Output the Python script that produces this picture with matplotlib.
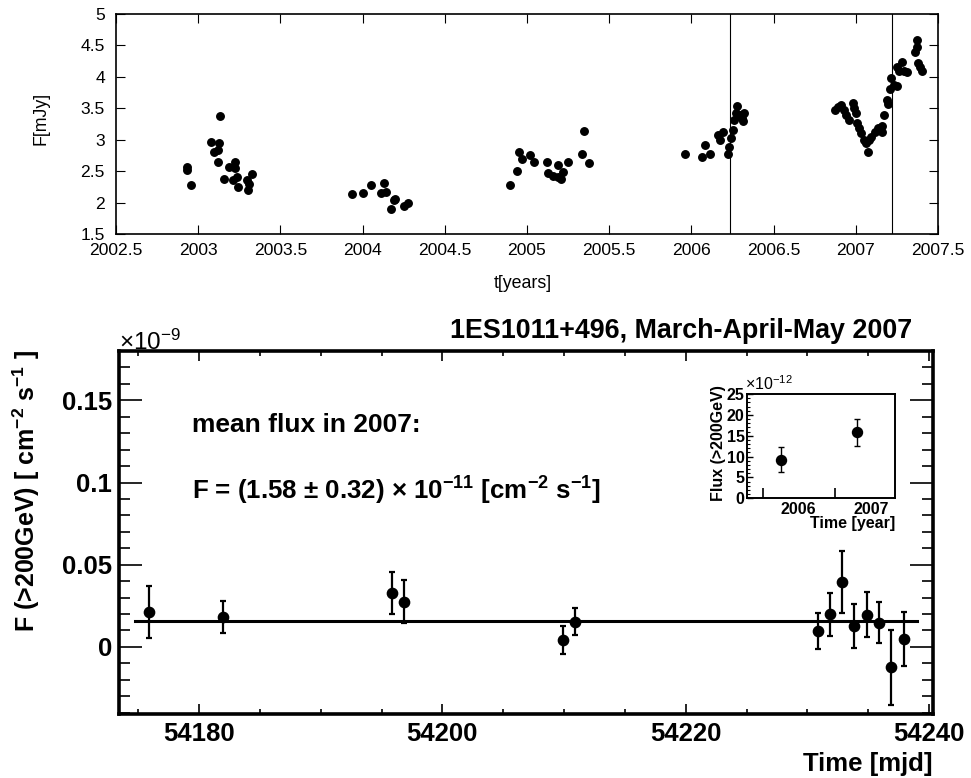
import matplotlib
matplotlib.use("Agg")
import matplotlib.pyplot as plt
from matplotlib.ticker import MultipleLocator, FuncFormatter, FixedLocator

plt.rcParams['font.family'] = ['Liberation Sans', 'DejaVu Sans']
plt.rcParams['mathtext.default'] = 'regular'

# ---------------- data: optical light curve (top panel) ----------------
opt_years = [
    2002.929, 2002.929, 2002.955, 2003.078, 2003.098, 2003.133, 2003.128, 2003.120, 2003.118, 2003.159,
    2003.188, 2003.224, 2003.224, 2003.210, 2003.235, 2003.240, 2003.296, 2003.310, 2003.300, 2003.330,
    2003.938, 2004.003, 2004.054, 2004.110, 2004.131, 2004.141, 2004.172, 2004.188, 2004.200, 2004.250,
    2004.278,
    2004.895, 2004.942, 2004.950, 2004.970, 2005.017, 2005.044, 2005.119, 2005.130, 2005.160, 2005.190,
    2005.190, 2005.205, 2005.220, 2005.248, 2005.333, 2005.345, 2005.378,
    2005.961, 2006.062, 2006.083, 2006.111, 2006.164, 2006.175, 2006.193, 2006.225, 2006.230, 2006.240,
    2006.250, 2006.260, 2006.270, 2006.280, 2006.295, 2006.300, 2006.310, 2006.315, 2006.320,
    2006.871, 2006.890, 2006.910, 2006.930, 2006.940, 2006.960, 2006.980, 2006.990, 2007.000, 2007.010,
    2007.020, 2007.030, 2007.050, 2007.065, 2007.075, 2007.080, 2007.095, 2007.116, 2007.135, 2007.157,
    2007.160, 2007.173, 2007.187, 2007.197, 2007.208, 2007.212, 2007.230, 2007.250, 2007.253, 2007.265,
    2007.280, 2007.293, 2007.310, 2007.360, 2007.370, 2007.375, 2007.380, 2007.390, 2007.400,
]
opt_flux = [
    2.57, 2.52, 2.28, 2.97, 2.80, 3.38, 2.94, 2.84, 2.64, 2.38,
    2.57, 2.64, 2.55, 2.36, 2.41, 2.24, 2.36, 2.29, 2.20, 2.45,
    2.13, 2.15, 2.28, 2.15, 2.31, 2.17, 1.89, 2.04, 2.05, 1.95,
    1.99,
    2.28, 2.50, 2.81, 2.69, 2.75, 2.65, 2.65, 2.47, 2.42, 2.60,
    2.41, 2.38, 2.49, 2.64, 2.77, 3.14, 2.63,
    2.78, 2.73, 2.92, 2.77, 3.08, 2.99, 3.13, 2.77, 2.89, 3.02,
    3.16, 3.32, 3.42, 3.54, 3.40, 3.36, 3.34, 3.30, 3.42,
    3.47, 3.52, 3.55, 3.47, 3.39, 3.32, 3.58, 3.50, 3.42, 3.26,
    3.18, 3.10, 3.00, 2.94, 2.81, 3.00, 3.05, 3.13, 3.18, 3.13,
    3.22, 3.39, 3.63, 3.57, 3.80, 3.98, 3.87, 3.86, 4.16, 4.10,
    4.24, 4.10, 4.08, 4.40, 4.59, 4.47, 4.22, 4.16, 4.10,
]
opt_err = 0.035
vline_years = [2006.233, 2007.218]

# ---------------- data: VHE light curve (bottom panel), units 1e-9 ----------------
vhe_mjd = [54175.91, 54182.00, 54195.86, 54196.82, 54209.90, 54210.92, 54230.91,
           54231.87, 54232.88, 54233.84, 54234.91, 54235.87, 54236.91, 54237.93]
vhe_flux = [0.0212, 0.0182, 0.0326, 0.0275, 0.0041, 0.0154, 0.0097,
            0.0198, 0.0394, 0.0128, 0.0197, 0.0148, -0.0125, 0.0047]
vhe_err = [0.0160, 0.0100, 0.0127, 0.0132, 0.0084, 0.0082, 0.0110,
           0.0130, 0.0190, 0.0133, 0.0138, 0.0127, 0.0228, 0.0163]
mean_flux = 0.0158
mean_range = [54174.74, 54239.0]

# ---------------- data: inset (yearly flux, units 1e-12) ----------------
inset_year = [2005.75, 2006.80]
inset_flux = [9.2, 15.8]
inset_err = [3.0, 3.3]
inset_labels = ['2006', '2007']
inset_label_pos = [2006.0, 2007.0]
inset_tick_pos = [2005.5, 2006.5]

W, H = 971, 778
fig = plt.figure(figsize=(W / 100, H / 100), dpi=100)

def fx(px):
    return px / W

def fy(py):
    return 1 - py / H

fmt_g = FuncFormatter(lambda v, p: '%g' % round(v, 6))

# ---------------- top panel ----------------
ax1 = fig.add_axes([fx(116), fy(234), fx(938) - fx(116), fy(14) - fy(234)])
ax1.errorbar(opt_years, opt_flux, yerr=opt_err, fmt='o', color='black', ms=5.4,
             elinewidth=0.8, capsize=1.5, capthick=0.8)
for v in vline_years:
    ax1.axvline(v, color='black', lw=0.8)
ax1.set_xlim(2002.5, 2007.5)
ax1.set_ylim(1.5, 5)
ax1.xaxis.set_major_locator(MultipleLocator(0.5))
ax1.yaxis.set_major_locator(MultipleLocator(0.5))
ax1.xaxis.set_major_formatter(fmt_g)
ax1.yaxis.set_major_formatter(fmt_g)
ax1.tick_params(axis='both', direction='in', top=True, right=True, length=6.5, width=0.8,
                labelsize=12.6)
ax1.tick_params(axis='x', pad=6.8)
ax1.tick_params(axis='y', pad=8)
for s in ax1.spines.values():
    s.set_linewidth(1.2)
fig.text(fx(523), fy(283), 't[years]', ha='center', va='center', fontsize=12.8)
fig.text(fx(41), fy(118), 'F[mJy]', ha='center', va='center', rotation=90, fontsize=12.8)

# ---------------- bottom panel ----------------
ax2 = fig.add_axes([fx(119.3), fy(714), fx(933.3) - fx(119.3), fy(350.7) - fy(714)])
ax2.plot(mean_range, [mean_flux, mean_flux], color='black', lw=2.2)
ax2.errorbar(vhe_mjd, vhe_flux, yerr=vhe_err, fmt='o', color='black', ms=7.4,
             elinewidth=1.6, capsize=2.2, capthick=1.6)
ax2.set_xlim(54173.45, 54240.35)
ax2.set_ylim(-0.0408, 0.1802)
ax2.xaxis.set_major_locator(MultipleLocator(20))
ax2.xaxis.set_minor_locator(MultipleLocator(5))
ax2.yaxis.set_major_locator(MultipleLocator(0.05))
ax2.yaxis.set_minor_locator(MultipleLocator(0.01))
ax2.xaxis.set_major_formatter(fmt_g)
ax2.yaxis.set_major_formatter(fmt_g)
ax2.tick_params(axis='both', which='both', direction='in', top=True, right=True, width=1.2,
                labelsize=18.5)
ax2.tick_params(axis='x', which='major', length=7.5, pad=6)
ax2.tick_params(axis='x', which='minor', length=3.8)
ax2.tick_params(axis='y', which='major', length=16.5, pad=5)
ax2.tick_params(axis='y', which='minor', length=8)
for lab in ax2.get_xticklabels() + ax2.get_yticklabels():
    lab.set_fontweight('bold')
for s in ax2.spines.values():
    s.set_linewidth(2.6)

fig.text(fx(119), fy(350), '×10$^{-9}$', ha='left', va='baseline', fontsize=17.5,
         color='black')
fig.text(fx(912), fy(338), '1ES1011+496, March-April-May 2007', ha='right', va='baseline',
         fontsize=19.4, fontweight='bold')
fig.text(fx(933), fy(771), 'Time [mjd]', ha='right', va='baseline', fontsize=18.5,
         fontweight='bold')
fig.text(fx(26), fy(350), 'F (>200GeV) [ cm$^{-2}$ s$^{-1}$ ]', ha='center', va='top',
         rotation=90, fontsize=18, fontweight='bold')
fig.text(fx(191.7), fy(431.7), 'mean flux in 2007:', ha='left', va='baseline', fontsize=19,
         fontweight='bold')
fig.text(fx(191.7), fy(500), 'F = (1.58 ± 0.32) × 10$^{-11}$ [cm$^{-2}$ s$^{-1}$]',
         ha='left', va='baseline', fontsize=18.6, fontweight='bold')

# ---------------- inset ----------------
ax3 = fig.add_axes([fx(746.7), fy(498.3), fx(895) - fx(746.7), fy(394) - fy(498.3)])
ax3.errorbar(inset_year, inset_flux, yerr=inset_err, fmt='o', color='black', ms=7.2,
             elinewidth=1.0, capsize=2.0, capthick=1.0)
ax3.set_xlim(2005.28, 2007.33)
ax3.set_ylim(0, 25)
ax3.xaxis.set_major_locator(FixedLocator(inset_label_pos))
ax3.set_xticklabels(inset_labels)
ax3.xaxis.set_minor_locator(FixedLocator(inset_tick_pos))
ax3.yaxis.set_major_locator(MultipleLocator(5))
ax3.yaxis.set_minor_locator(MultipleLocator(1))
ax3.tick_params(axis='x', which='major', length=0, pad=3, labelsize=11.5)
ax3.tick_params(axis='x', which='minor', direction='in', length=7, width=1.2)
ax3.tick_params(axis='y', which='major', direction='in', length=4, width=1.0, pad=1.5,
                labelsize=11.5)
ax3.tick_params(axis='y', which='minor', direction='in', length=2, width=0.8)
for lab in ax3.get_xticklabels() + ax3.get_yticklabels():
    lab.set_fontweight('bold')
for s in ax3.spines.values():
    s.set_linewidth(1.4)
fig.text(fx(745), fy(390), '×10$^{-12}$', ha='left', va='baseline', fontsize=11.5)
fig.text(fx(895), fy(528), 'Time [year]', ha='right', va='baseline', fontsize=11.5,
         fontweight='bold')
fig.text(fx(718), fy(443), 'Flux (>200GeV)', ha='center', va='center', rotation=90,
         fontsize=11.5, fontweight='bold')

fig.savefig('out.png', dpi=100, facecolor='white')
